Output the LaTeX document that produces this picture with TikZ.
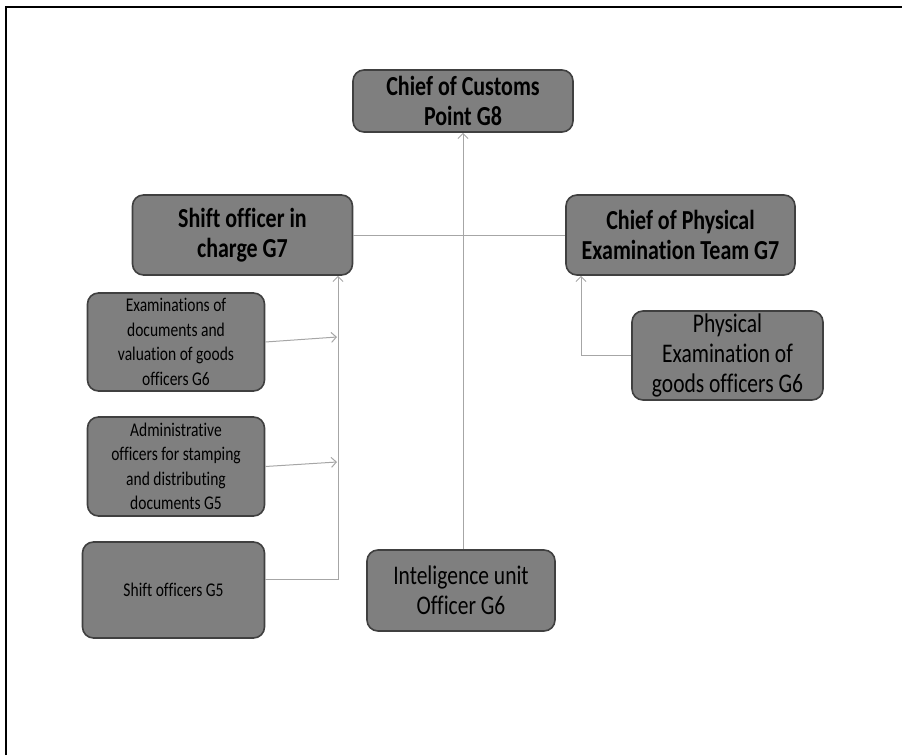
\documentclass[tikz,border=0pt]{standalone}
\usepackage{fontspec}
\setmainfont[FakeStretch=0.8, Ligatures=NoCommon]{Carlito}
\usetikzlibrary{arrows.meta}
\definecolor{boxfill}{HTML}{7F7F7F}
\definecolor{boxedge}{HTML}{404040}
\definecolor{linegray}{HTML}{A6A6A6}
\begin{document}
\begin{tikzpicture}[x=1pt,y=-1pt,
  box/.style={draw=boxedge, fill=boxfill, line width=1.6pt, rounded corners=11pt, inner sep=0pt, align=center, text=black},
  boldtext/.style={font=\fontsize{27.5}{30}\selectfont\bfseries},
  smalltext/.style={font=\fontsize{19.4}{24.5}\selectfont},
  bigtext/.style={font=\fontsize{26.9}{30}\selectfont},
  conn/.style={draw=linegray, line width=1pt},
  arr/.style={conn, -{Straight Barb[length=5pt,width=10pt]}}
]
\useasboundingbox (0,0) rectangle (902,755);
\draw[line width=2pt] (5.5,755) -- (5.5,6.5) -- (902,6.5);

\node[box, boldtext, minimum width=220pt, minimum height=62pt] (cust) at (463,101) {Chief of Customs\\Point G8};
\node[box, boldtext, minimum width=220pt, minimum height=80pt] (shift) at (242.5,235) {Shift officer in\\charge G7};
\node[box, boldtext, minimum width=229pt, minimum height=80pt] (phys) at (680.5,235) {Chief of Physical\\Examination Team G7};
\node[box, smalltext, minimum width=177pt, minimum height=98pt] (exam) at (176,342) {Examinations of\\documents and\\valuation of goods\\officers G6};
\node[box, smalltext, minimum width=177pt, minimum height=99pt] (admin) at (176,466.5) {Administrative\\officers for stamping\\and distributing\\documents G5};
\node[box, smalltext, minimum width=182pt, minimum height=96pt] (sg5) at (173.5,590) {Shift officers G5};
\node[box, bigtext, minimum width=188pt, minimum height=81pt] (intel) at (461,590.5) {Inteligence unit\\Officer G6};
\node[box, bigtext, minimum width=191pt, minimum height=89pt] (physgoods) at (727.5,355.5) {Physical\\Examination of\\goods officers G6};

\coordinate (bus) at (338,0);
\coordinate (physbus) at (581,0);
\coordinate (examtip) at (337,337);
\coordinate (admintip) at (337,462);

\draw[conn] (shift.east) -- (phys.west);
\draw[arr] (cust.south |- intel.north) -- (cust.south);
\draw[arr] ([yshift=11pt]sg5.east) -- ([yshift=11pt]sg5.east -| bus) -- (bus |- shift.south);
\draw[arr] (exam.east) -- (examtip);
\draw[arr] (admin.east) -- (admintip);
\draw[arr] (physgoods.west) -- (physgoods.west -| physbus) -- (physbus |- phys.south);
\end{tikzpicture}
\end{document}
